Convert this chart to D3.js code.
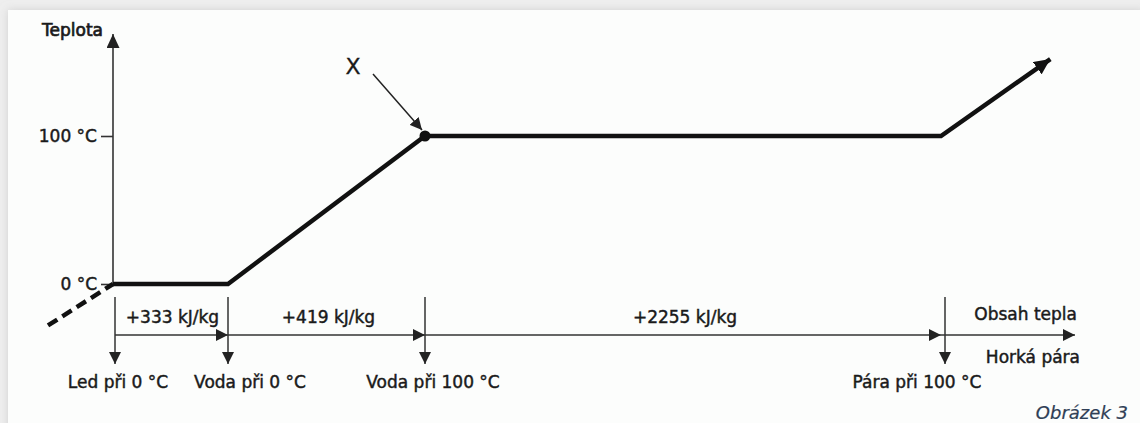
<!DOCTYPE html>
<html>
<head>
<meta charset="utf-8">
<script src="https://cdn.jsdelivr.net/npm/d3@7"></script>
<style>
  body { margin: 0; background: #f1f1f1; }
  svg { display: block; }
  text { font-family: "DejaVu Sans", sans-serif; fill: #1a1a1a; stroke: #1a1a1a; stroke-width: 0.45px; }
</style>
</head>
<body>
<div id="chart"></div>
<script>
// stages along the heat axis (cumulative kJ/kg from ice at 0 °C)
const stageNames = ["Led při 0 °C", "Voda při 0 °C", "Voda při 100 °C", "Pára při 100 °C"]
const stageHeat = [0, 333, 752, 3007]
const stepLabels = ["+333 kJ/kg", "+419 kJ/kg", "+2255 kJ/kg"]
const axisEndHeat = 3170

// heating curve
const curveHeat = [0, 333, 752, 3007, 3140]
const curveTemp = [0, 0, 100, 100, 152]
const iceHeat = [-60, 0]
const iceTemp = [-28, 0]

const tempTicks = [0, 100]
const tempTickLabels = ["0 °C", "100 °C"]

const width = 1140, height = 423

// heat axis is not drawn to scale, so use a piecewise linear scale
let x = d3.scaleLinear()
    .domain([-60, 0, 333, 752, 3007, axisEndHeat])
    .range([48, 113, 228, 425, 941, 1075])

let y = d3.scaleLinear()
    .domain([0, 100])
    .range([284, 136])

let svg = d3.select("#chart")
    .append("svg")
    .attr("width", width)
    .attr("height", height)

let defs = svg.append("defs")

let shadow = defs.append("filter").attr("id", "shadow")
    .attr("x", "-5%").attr("y", "-5%").attr("width", "110%").attr("height", "110%")
shadow.append("feDropShadow")
    .attr("dx", 0).attr("dy", 0).attr("stdDeviation", 4)
    .attr("flood-color", "#bdbdbd").attr("flood-opacity", 0.6)

function arrowMarker(id, len, wid, color) {
    defs.append("marker")
        .attr("id", id)
        .attr("markerUnits", "userSpaceOnUse")
        .attr("viewBox", `0 0 ${len} ${wid}`)
        .attr("markerWidth", len)
        .attr("markerHeight", wid)
        .attr("refX", len)
        .attr("refY", wid / 2)
        .attr("orient", "auto")
        .append("path")
        .attr("d", `M0,0 L${len},${wid / 2} L0,${wid} Z`)
        .attr("fill", color)
}
arrowMarker("thin", 12, 12, "#222")
arrowMarker("thick", 16, 15, "#111")
arrowMarker("axisUp", 14, 13, "#222")

// page panel
svg.append("rect")
    .attr("width", width).attr("height", height)
    .attr("fill", "#eeeeee")
svg.append("rect")
    .attr("x", 8).attr("y", 10)
    .attr("width", width - 4).attr("height", height)
    .attr("fill", "#fcfdfc")
    .attr("filter", "url(#shadow)")

// temperature axis
svg.append("line")
    .attr("x1", x(0)).attr("x2", x(0))
    .attr("y1", y(0)).attr("y2", 34)
    .attr("stroke", "#333").attr("stroke-width", 1.6)
    .attr("marker-end", "url(#axisUp)")

let yAxis = svg.append("g")
    .attr("transform", `translate(${x(0)}, 0)`)
    .call(d3.axisLeft(y)
        .tickValues(tempTicks)
        .tickFormat((d, i) => tempTickLabels[i])
        .tickSize(12)
        .tickSizeOuter(0)
        .tickPadding(4))
yAxis.select(".domain").remove()
yAxis.selectAll(".tick line").attr("stroke", "#333").attr("stroke-width", 1.6)
yAxis.selectAll(".tick text")
    .attr("font-family", "DejaVu Sans")
    .attr("font-size", 17)
    .attr("fill", "#1a1a1a")

svg.append("text")
    .attr("x", x(0) - 10).attr("y", 36)
    .attr("text-anchor", "end")
    .style("font-size", "17px")
    .style("stroke-width", "0.7px")
    .text("Teplota")

// ice warming (dashed)
let line = d3.line()
    .x(d => x(d[0]))
    .y(d => y(d[1]))

svg.append("path")
    .datum(iceHeat.map((h, i) => [h, iceTemp[i]]))
    .attr("d", line)
    .attr("fill", "none")
    .attr("stroke", "#111")
    .attr("stroke-width", 4.5)
    .attr("stroke-dasharray", "11,6")

// heating curve
svg.append("path")
    .datum(curveHeat.map((h, i) => [h, curveTemp[i]]))
    .attr("d", line)
    .attr("fill", "none")
    .attr("stroke", "#111")
    .attr("stroke-width", 4.5)
    .attr("stroke-linejoin", "miter")
    .attr("marker-end", "url(#thick)")

// point X where water reaches 100 °C
let px = x(stageHeat[2]), py = y(100)
svg.append("circle")
    .attr("cx", px).attr("cy", py).attr("r", 5.5)
    .attr("fill", "#111")
svg.append("line")
    .attr("x1", px - 52).attr("y1", py - 62)
    .attr("x2", px - 3).attr("y2", py - 6)
    .attr("stroke", "#222").attr("stroke-width", 1.5)
    .attr("marker-end", "url(#thin)")
svg.append("text")
    .attr("x", px - 72).attr("y", py - 62)
    .attr("text-anchor", "middle")
    .style("font-size", "22px")
    .style("stroke-width", "0.3px")
    .text("X")

// heat axis: one arrow per step
const axisY = 335
let axisStops = stageHeat.concat([axisEndHeat])
svg.append("g")
    .selectAll("line")
    .data(d3.pairs(axisStops))
    .enter()
    .append("line")
    .attr("x1", (d, i) => x(d[0]) + (i === 0 ? 2 : 0))
    .attr("x2", d => x(d[1]))
    .attr("y1", axisY).attr("y2", axisY)
    .attr("stroke", "#333").attr("stroke-width", 1.5)
    .attr("marker-end", "url(#thin)")

svg.append("g")
    .selectAll("text")
    .data(d3.pairs(stageHeat))
    .enter()
    .append("text")
    .attr("x", d => (x(d[0]) + x(d[1])) / 2 + 2)
    .attr("y", axisY - 12)
    .attr("text-anchor", "middle")
    .style("font-size", "17px")
    .text((d, i) => stepLabels[i])

svg.append("text")
    .attr("x", x(axisEndHeat) + 2).attr("y", axisY - 15)
    .attr("text-anchor", "end")
    .style("font-size", "17px")
    .text("Obsah tepla")

svg.append("text")
    .attr("x", x(axisEndHeat) + 5).attr("y", axisY + 28)
    .attr("text-anchor", "end")
    .style("font-size", "17px")
    .text("Horká pára")

// stage markers
const labelDx = [3, 22, 8, -28]
let stage = svg.append("g")
    .selectAll("g")
    .data(stageHeat)
    .enter()
    .append("g")
    .attr("transform", (d, i) => `translate(${x(d) + (i === 0 ? 2 : i === 3 ? 4 : 0)}, 0)`)

stage.append("line")
    .attr("y1", 297).attr("y2", 364)
    .attr("stroke", "#333").attr("stroke-width", 1.5)
    .attr("marker-end", "url(#thin)")

stage.append("text")
    .attr("x", (d, i) => labelDx[i])
    .attr("y", 388)
    .attr("text-anchor", "middle")
    .style("font-size", "17px")
    .text((d, i) => stageNames[i])

// caption
svg.append("text")
    .attr("x", 1128).attr("y", 419)
    .attr("text-anchor", "end")
    .style("font-size", "18px")
    .style("font-style", "italic")
    .style("fill", "#2f3f56")
    .style("stroke", "#2f3f56")
    .style("stroke-width", "0.2px")
    .text("Obrázek 3")
</script>
</body>
</html>
